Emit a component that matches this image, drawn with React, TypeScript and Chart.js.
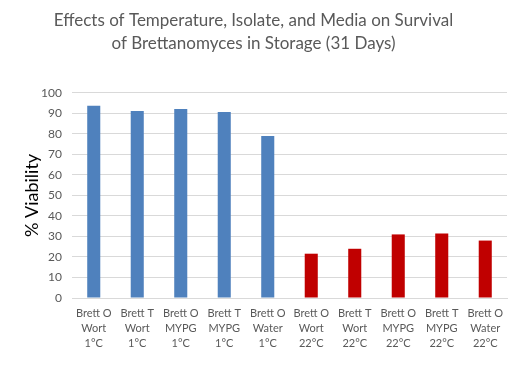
import React, { useEffect, useRef } from "react";
import { Chart, registerables } from "chart.js";

Chart.register(...registerables);

const strains = ["Brett O", "Brett T", "Brett O", "Brett T", "Brett O", "Brett O", "Brett T", "Brett O", "Brett T", "Brett O"];
const media = ["Wort", "Wort", "MYPG", "MYPG", "Water", "Wort", "Wort", "MYPG", "MYPG", "Water"];
const temps = ["1°C", "1°C", "1°C", "1°C", "1°C", "22°C", "22°C", "22°C", "22°C", "22°C"];
const viability = [93.7, 91.2, 92.2, 90.7, 79.0, 21.6, 24.0, 31.0, 31.5, 28.0];
const yTicks = [0, 10, 20, 30, 40, 50, 60, 70, 80, 90, 100];
const titleLines = ["Effects of Temperature, Isolate, and Media on Survival", "of Brettanomyces in Storage (31 Days)"];
const yAxisTitle = "% Viability";
const tempColors: Record<string, string> = { "1°C": "#4F81BD", "22°C": "#C00000" };

export default function App() {
  const ref = useRef<HTMLCanvasElement | null>(null);
  useEffect(() => {
    document.body.style.margin = "0";
    if (!ref.current) return;
    const labels = strains.map((s, i) => [s, media[i], temps[i]]);
    const chart = new Chart(ref.current, {
      type: "bar",
      data: {
        labels,
        datasets: [
          {
            data: viability,
            backgroundColor: temps.map((t) => tempColors[t]),
            barPercentage: 0.3,
            categoryPercentage: 1,
          },
        ],
      },
      options: {
        animation: false,
        responsive: false,
        maintainAspectRatio: false,
        layout: { padding: { left: 0, right: 12, top: 0, bottom: 0 } },
        plugins: {
          legend: { display: false },
          tooltip: { enabled: false },
          title: {
            display: true,
            text: titleLines,
            color: "#595959",
            font: { family: "Lato", size: 17, weight: "normal", lineHeight: 1.35 },
            padding: { top: 9, bottom: 38 },
          },
        },
        scales: {
          x: {
            grid: { display: false, drawTicks: false },
            border: { display: true, color: "#D9D9D9" },
            ticks: {
              color: "#595959",
              font: { family: "Lato", size: 11, lineHeight: 1.35 },
              maxRotation: 0,
              autoSkip: false,
              padding: 8,
            },
            afterFit: (s: any) => {
              s.height = 78;
            },
          },
          y: {
            min: 0,
            max: 100,
            afterBuildTicks: (s: any) => {
              s.ticks = yTicks.map((v) => ({ value: v }));
            },
            grid: { color: "#D9D9D9", drawTicks: false },
            border: { display: false },
            ticks: {
              color: "#595959",
              font: { family: "Lato", size: 12 },
              padding: 10,
            },
            title: {
              display: true,
              text: yAxisTitle,
              color: "#000000",
              font: { family: "Lato", size: 18 },
              padding: { top: 21, bottom: 0 },
            },
            afterFit: (s: any) => {
              s.width = 72;
            },
          },
        },
      },
    });
    return () => chart.destroy();
  }, []);
  return (
    <div style={{ width: 519, height: 376, background: "#fff" }}>
      <canvas ref={ref} width={519} height={376} style={{ display: "block" }} />
    </div>
  );
}
